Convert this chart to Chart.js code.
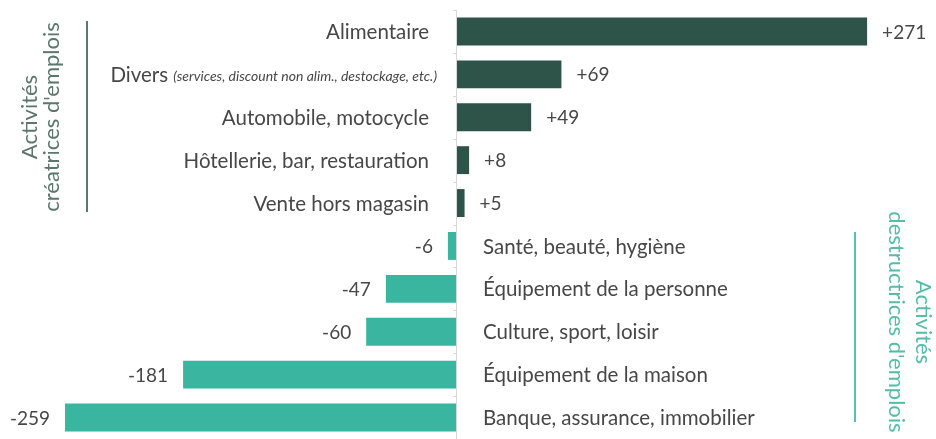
<!DOCTYPE html>
<html>
<head>
<meta charset="utf-8">
<script src="https://cdn.jsdelivr.net/npm/chart.js@4"></script>
<style>
  html, body { margin: 0; padding: 0; background: #fff; }
  #wrap { width: 936px; height: 439px; }
</style>
</head>
<body>
<div id="wrap"><canvas id="chart"></canvas></div>
<script>
// Données
const categories = [
  'Alimentaire',
  'Divers',
  'Automobile, motocycle',
  'Hôtellerie, bar, restauration',
  'Vente hors magasin',
  'Santé, beauté, hygiène',
  'Équipement de la personne',
  'Culture, sport, loisir',
  'Équipement de la maison',
  'Banque, assurance, immobilier'
];
const valeurs = [271, 69, 49, 8, 5, -6, -47, -60, -181, -259];
const noteDivers = '(services, discount non alim., destockage, etc.)';

const vertFonce = '#2e5349';
const turquoise = '#3ab59f';
const gris = '#474747';
const police = 'Lato, "Open Sans", sans-serif';

// Étiquettes, axe zéro et textes latéraux
const etiquettes = {
  id: 'etiquettes',
  afterDatasetsDraw(chart) {
    const ctx = chart.ctx;
    const meta = chart.getDatasetMeta(0);
    const xs = chart.scales.x;
    const ys = chart.scales.y;
    const zero = xs.getPixelForValue(0);
    const area = chart.chartArea;

    // axe zéro avec petites graduations
    ctx.save();
    ctx.strokeStyle = '#d8d8d8';
    ctx.lineWidth = 1;
    ctx.beginPath();
    ctx.moveTo(zero - 0.5, area.top);
    ctx.lineTo(zero - 0.5, area.bottom);
    for (let i = 0; i <= categories.length; i++) {
      const y = Math.round(ys.getPixelForValue(i - 0.5)) + 0.5;
      ctx.moveTo(zero - 4, y);
      ctx.lineTo(zero, y);
    }
    ctx.stroke();

    ctx.textBaseline = 'middle';
    ctx.fillStyle = gris;
    const fontLabel = '20.5px ' + police;
    const fontValeur = '19px ' + police;
    meta.data.forEach((bar, i) => {
      const v = valeurs[i];
      const y = bar.y + 1;
      if (v >= 0) {
        ctx.font = fontValeur;
        ctx.textAlign = 'left';
        ctx.fillText('+' + v, bar.x + 15, y);
        if (i === 1) {
          ctx.font = 'italic 14px ' + police;
          const w = ctx.measureText(noteDivers).width;
          ctx.textAlign = 'right';
          ctx.fillText(noteDivers, zero - 20, y + 1);
          ctx.font = fontLabel;
          ctx.fillText(categories[i], zero - 20 - w - 5, y);
        } else {
          ctx.font = fontLabel;
          ctx.textAlign = 'right';
          ctx.fillText(categories[i], zero - 28, y);
        }
      } else {
        ctx.font = fontValeur;
        ctx.textAlign = 'right';
        ctx.fillText(String(v), bar.x - 15, y);
        ctx.font = fontLabel;
        ctx.textAlign = 'left';
        ctx.fillText(categories[i], zero + 26, y);
      }
    });

    // texte latéral gauche
    ctx.font = '22px ' + police;
    ctx.textAlign = 'center';
    ctx.textBaseline = 'alphabetic';
    ctx.fillStyle = '#5b776e';
    [['Activités', 37], ['créatrices d\'emplois', 59]].forEach(([t, x]) => {
      ctx.save();
      ctx.translate(x, 117);
      ctx.rotate(-Math.PI / 2);
      ctx.fillText(t, 0, 0);
      ctx.restore();
    });
    ctx.strokeStyle = '#5d7870';
    ctx.lineWidth = 2;
    ctx.beginPath();
    ctx.moveTo(87, 21);
    ctx.lineTo(87, 212);
    ctx.stroke();

    // texte latéral droit
    ctx.fillStyle = '#55bcaa';
    [['Activités', 916], ['destructrices d\'emplois', 889]].forEach(([t, x]) => {
      ctx.save();
      ctx.translate(x, 322);
      ctx.rotate(Math.PI / 2);
      ctx.fillText(t, 0, 0);
      ctx.restore();
    });
    ctx.strokeStyle = '#5bbfae';
    ctx.beginPath();
    ctx.moveTo(855, 232);
    ctx.lineTo(855, 422);
    ctx.stroke();
    ctx.restore();
  }
};

new Chart(document.getElementById('chart'), {
  type: 'bar',
  data: {
    labels: categories,
    datasets: [{
      data: valeurs,
      backgroundColor: valeurs.map(v => v >= 0 ? vertFonce : turquoise),
      categoryPercentage: 1,
      barPercentage: 0.65
    }]
  },
  options: {
    indexAxis: 'y',
    responsive: true,
    maintainAspectRatio: false,
    animation: false,
    layout: { padding: { left: 3, right: 25, top: 10, bottom: 0 } },
    plugins: { legend: { display: false }, tooltip: { enabled: false } },
    scales: {
      x: { min: -300, max: 300, display: false },
      y: { display: false }
    }
  },
  plugins: [etiquettes]
});
</script>
</body>
</html>
